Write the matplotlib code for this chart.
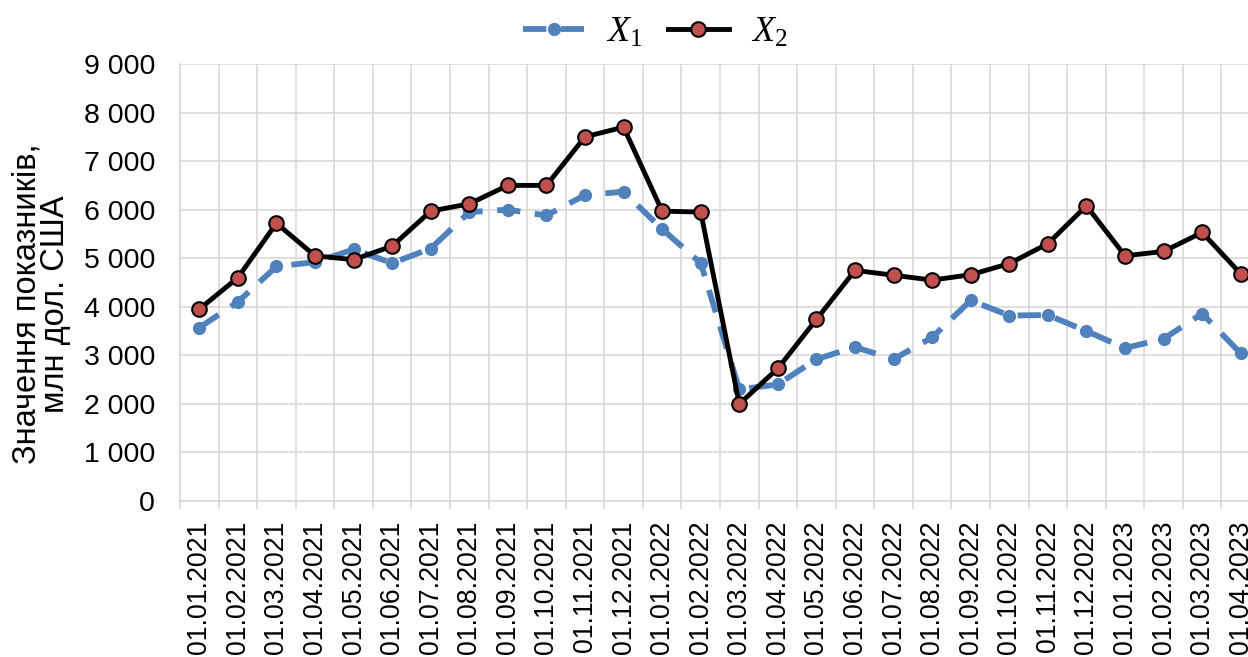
import matplotlib
matplotlib.use("Agg")
import matplotlib.pyplot as plt
from matplotlib.ticker import FuncFormatter, FixedLocator

plt.rcParams['font.family'] = ['Liberation Sans', 'DejaVu Sans']
plt.rcParams['mathtext.fontset'] = 'custom'
plt.rcParams['mathtext.it'] = 'Liberation Serif:italic'
plt.rcParams['mathtext.rm'] = 'Liberation Serif'

dates = ["01.01.2021", "01.02.2021", "01.03.2021", "01.04.2021", "01.05.2021",
         "01.06.2021", "01.07.2021", "01.08.2021", "01.09.2021", "01.10.2021",
         "01.11.2021", "01.12.2021", "01.01.2022", "01.02.2022", "01.03.2022",
         "01.04.2022", "01.05.2022", "01.06.2022", "01.07.2022", "01.08.2022",
         "01.09.2022", "01.10.2022", "01.11.2022", "01.12.2022", "01.01.2023",
         "01.02.2023", "01.03.2023", "01.04.2023"]

x1 = [3570, 4100, 4830, 4920, 5180, 4900, 5200, 5950, 6000, 5880,
      6300, 6370, 5600, 4900, 2300, 2400, 2920, 3170, 2920, 3370,
      4130, 3820, 3830, 3500, 3150, 3340, 3860, 3040]

x2 = [3950, 4600, 5720, 5050, 4970, 5250, 5970, 6120, 6500, 6500,
      7500, 7700, 5970, 5950, 2000, 2730, 3740, 4750, 4650, 4550,
      4660, 4890, 5300, 6080, 5050, 5140, 5530, 4680]

blue = '#4F81BD'
red = '#C0504D'
grid_col = '#D9D9D9'

fig = plt.figure(figsize=(12.48, 6.57), dpi=100)
ax = fig.add_axes([180/1248, 156/657, 1080/1248, 437/657])

pos = list(range(len(dates)))

ax.plot(pos, x1, color=blue, lw=4.2, dashes=(4, 2.5), marker='o', ms=8.5,
        mfc=blue, mec=blue, label=r'$X_1$', zorder=3)
ax.plot(pos, x2, color='black', lw=3.5, marker='o', ms=10.5,
        mfc=red, mec='black', mew=1.5, label=r'$X_2$', zorder=4)

ax.set_xlim(-0.5, len(dates) - 0.5)
ax.set_ylim(0, 9000)
ax.set_yticks(range(0, 9001, 1000))
ax.yaxis.set_major_formatter(FuncFormatter(lambda v, p: f"{int(v):,}".replace(",", " ")))

ax.set_xticks(pos)
ax.set_xticklabels(dates, rotation=90)
ax.xaxis.set_minor_locator(FixedLocator([i - 0.5 for i in range(len(dates) + 1)]))

ax.grid(axis='y', which='major', color=grid_col, lw=1.2)
ax.grid(axis='x', which='minor', color=grid_col, lw=1.2)
ax.set_axisbelow(True)

ax.tick_params(axis='x', which='major', length=0, pad=14, labelsize=19.3)
ax.tick_params(axis='x', which='minor', length=6, width=1.2, color=grid_col, direction='out')
ax.tick_params(axis='y', length=0, pad=18, labelsize=20.5)

for s in ['top', 'right']:
    ax.spines[s].set_visible(False)
for s in ['left', 'bottom']:
    ax.spines[s].set_color(grid_col)
    ax.spines[s].set_linewidth(1.2)

# axis title placed by hand, Excel puts it a bit below the plot centre
fig.text(41/1248, 1 - 304/657, "Значення показників,\nмлн дол. США",
         rotation=90, ha='center', va='center', multialignment='center',
         fontsize=23.5, linespacing=0.9)

fig.legend(loc='center', bbox_to_anchor=(655/1248, 1 - 32/657), ncol=2,
           frameon=False, fontsize=26, handlelength=1.7, columnspacing=0.7,
           handletextpad=0.6)

fig.savefig("out.png", dpi=100)
